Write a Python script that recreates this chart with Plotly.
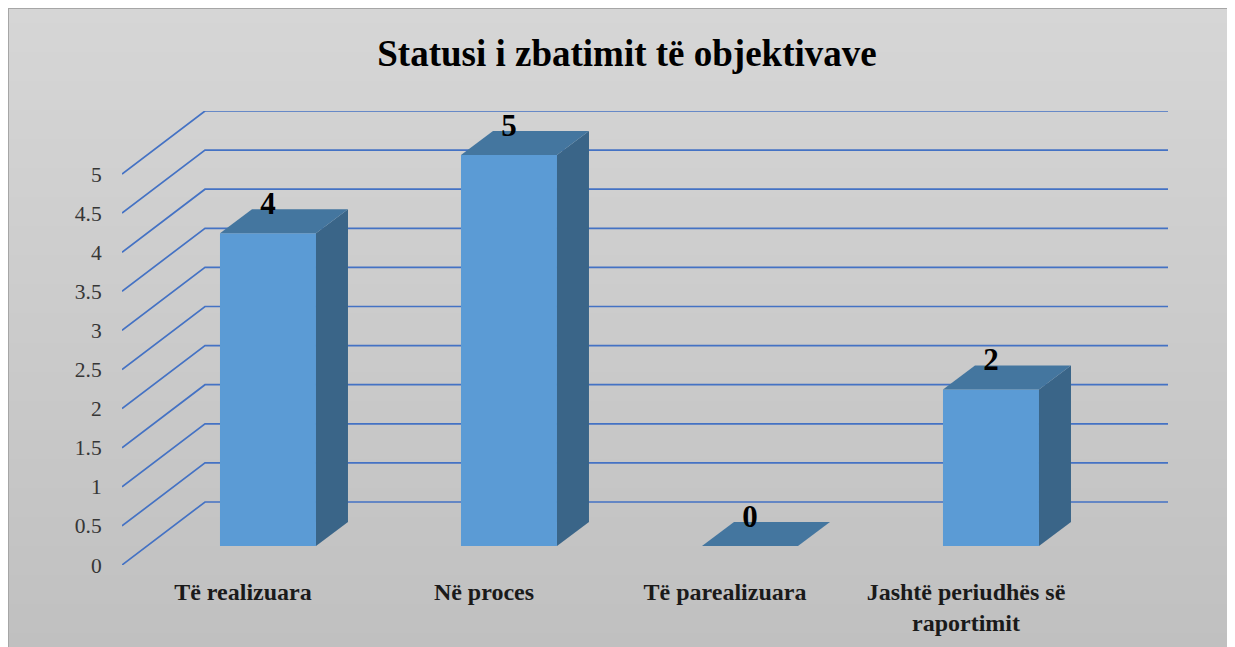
import plotly.graph_objects as go

TITLE = "Statusi i zbatimit të objektivave"
categories = ["Të realizuara", "Në proces", "Të parealizuara", "Jashtë periudhës së<br>raportimit"]
values = [4, 5, 0, 2]
y_ticks = [0, 0.5, 1, 1.5, 2, 2.5, 3, 3.5, 4, 4.5, 5]
y_tick_labels = ["0", "0.5", "1", "1.5", "2", "2.5", "3", "3.5", "4", "4.5", "5"]
background_levels = [[214, 214], [192, 192]]

PAGE_MARGIN = 8
W, H = 1235 - PAGE_MARGIN, 647 - PAGE_MARGIN
PLOT_L, PLOT_R, PLOT_T, PLOT_B = 122 - 8, 1168 - 8, 111 - 8, 565 - 8
CAT_PX = 241.0
VAL_PX = 78.2
X_MIN = -0.502
X_MAX = X_MIN + (PLOT_R - PLOT_L) / CAT_PX
Y_MAX = (PLOT_B - PLOT_T) / VAL_PX

# oblique projection offsets, in axis units
WALL_DX, WALL_DY = 83 / CAT_PX, 63 / VAL_PX
BAR_OX, BAR_OY = 25 / CAT_PX, 19 / VAL_PX
BAR_DX, BAR_DY = 32 / CAT_PX, 24 / VAL_PX
BAR_HW = 48 / CAT_PX

SERIF = "Liberation Serif"
GRID = "#4472c4"
FRONT, SIDE, TOP = "#5b9bd5", "#3a6588", "#44769f"

fig = go.Figure()

# page background gradient
fig.add_trace(go.Heatmap(
    z=background_levels, x=[0, 1], y=[1, 0], xaxis="x", yaxis="y",
    zmin=0, zmax=255, colorscale=[[0, "#000000"], [1, "#ffffff"]],
    zsmooth="best", showscale=False, hoverinfo="skip",
))

# wall gridlines
x_front = X_MIN
x_back = X_MIN + WALL_DX
for v in y_ticks:
    xs, ys = [x_front, x_back, X_MAX], [v, v + WALL_DY, v + WALL_DY]
    fig.add_trace(go.Scatter(x=xs, y=ys, mode="lines", xaxis="x2", yaxis="y2", cliponaxis=False,
                             line=dict(color=GRID, width=1.7), hoverinfo="skip", showlegend=False))


def face(xs, ys, color):
    fig.add_trace(go.Scatter(x=xs, y=ys, mode="lines", fill="toself", fillcolor=color,
                             xaxis="x2", yaxis="y2", line=dict(width=0, color=color), cliponaxis=False,
                             hoverinfo="skip", showlegend=False))


label_x, label_y = [], []
for i, v in enumerate(values):
    x0, x1 = i + BAR_OX - BAR_HW, i + BAR_OX + BAR_HW
    y0, y1 = BAR_OY, BAR_OY + v
    face([x0, x1, x1, x0, x0], [y0, y0, y1, y1, y0], FRONT)
    face([x1, x1 + BAR_DX, x1 + BAR_DX, x1, x1],
         [y0, y0 + BAR_DY, y1 + BAR_DY, y1, y0], SIDE)
    face([x0, x1, x1 + BAR_DX, x0 + BAR_DX, x0],
         [y1, y1, y1 + BAR_DY, y1 + BAR_DY, y1], TOP)
    label_x.append(i + BAR_OX)
    label_y.append(y1 + 27 / VAL_PX)

fig.add_trace(go.Scatter(x=label_x, y=label_y, mode="text", text=["<b>%s</b>" % v for v in values],
                         textposition="middle center", xaxis="x2", yaxis="y2", cliponaxis=False,
                         textfont=dict(family=SERIF, size=31, color="#000000"),
                         hoverinfo="skip", showlegend=False))

fig.update_layout(
    width=W, height=H, autosize=False, showlegend=False,
    margin=dict(l=0, r=0, t=0, b=0), paper_bgcolor="#c8c8c8", plot_bgcolor="rgba(0,0,0,0)",
    title=dict(text="<b>%s</b>" % TITLE, x=(627 - 8) / W, y=1 - (53 - 8) / H, xanchor="center", yanchor="middle",
               font=dict(family=SERIF, size=37, color="#000000")),
    xaxis=dict(domain=[0, 1], range=[0, 1], visible=False, fixedrange=True, automargin=False),
    yaxis=dict(domain=[0, 1], range=[0, 1], visible=False, fixedrange=True, automargin=False),
    xaxis2=dict(domain=[PLOT_L / W, PLOT_R / W], range=[X_MIN, X_MAX], anchor="y2", automargin=False,
                tickmode="array", tickvals=list(range(len(categories))),
                ticktext=["<b>%s</b>" % c.replace("<br>", "</b><br><b>") for c in categories],
                showgrid=False, zeroline=False, showline=False,
                ticks="outside", ticklen=5, tickcolor="rgba(0,0,0,0)",
                tickangle=0,
                tickfont=dict(family=SERIF, size=24, color="#1a1a1a")),
    yaxis2=dict(domain=[1 - PLOT_B / H, 1 - PLOT_T / H], range=[0, Y_MAX], anchor="x2", automargin=False,
                tickmode="array", tickvals=y_ticks, ticktext=y_tick_labels,
                showgrid=False, zeroline=False, showline=False,
                ticks="outside", ticklen=15, tickcolor="rgba(0,0,0,0)",
                tickfont=dict(family=SERIF, size=21.5, color="#363636")),
    shapes=[
        dict(type="line", xref="paper", yref="paper", x0=0, x1=0, y0=0, y1=1,
             line=dict(color="#a6a6a6", width=2)),
        dict(type="line", xref="paper", yref="paper", x0=0, x1=1, y0=1, y1=1,
             line=dict(color="#a6a6a6", width=2)),
    ],
)

fig.write_html("out.html", config=dict(displayModeBar=False))
